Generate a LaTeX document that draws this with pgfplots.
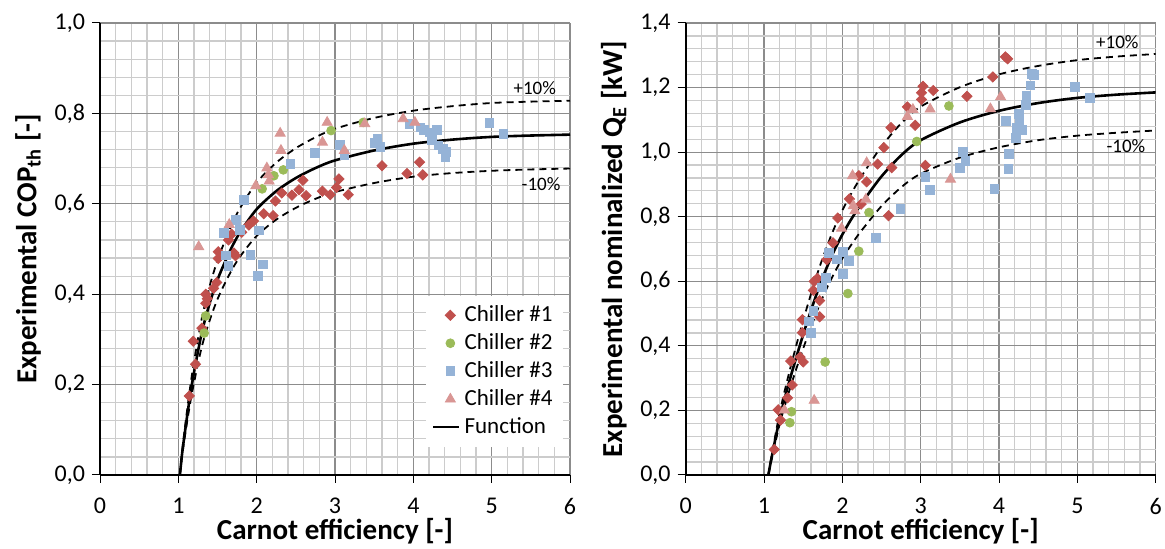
\documentclass[border=0pt]{standalone}
\usepackage{fontspec}
\setmainfont{Carlito}
\usepackage{pgfplots}
\pgfplotsset{compat=1.18}

\definecolor{ch1}{HTML}{C0504D}
\definecolor{ch2}{HTML}{9BBB59}
\definecolor{ch3}{HTML}{95B3D7}
\definecolor{ch4}{HTML}{D99694}

\pgfplotsset{
  chart/.style={
    scale only axis, width=235pt, height=226pt,
    xmin=0, xmax=6, ymin=0,
    xtick={0,1,2,3,4,5,6},
    minor x tick num=4, minor y tick num=4,
    grid=both,
    major grid style={black!45, line width=0.6pt},
    minor grid style={black!20, line width=0.6pt},
    axis lines*=left,
    axis line style={black, line width=0.8pt},
    tick align=outside,
    major tick length=4pt, minor tick length=0pt,
    tick style={black, line width=0.5pt},
    ticklabel style={font=\fontsize{12}{14}\selectfont},
    /pgf/number format/assume math mode=true,
    yticklabel style={/pgf/number format/.cd, fixed, fixed zerofill, precision=1, use comma},
    xticklabel style={yshift=-4pt},
    label style={font=\fontsize{14.5}{16}\selectfont\bfseries},
    xlabel style={yshift=5pt},
    xlabel={Carnot efficiency [-]},
  },
  s1/.style={only marks, mark=square*, mark size=1.8pt, color=ch1, mark options={draw=none, fill=ch1, rotate=45}},
  s2/.style={only marks, mark=*, mark size=2.2pt, color=ch2, mark options={draw=none, fill=ch2}},
  s3/.style={only marks, mark=square*, mark size=2.2pt, color=ch3, mark options={draw=none, fill=ch3}},
  s4/.style={only marks, mark=triangle*, mark size=2.9pt, color=ch4, mark options={draw=none, fill=ch4}},
  fn/.style={black, line width=1.3pt, no marks, smooth,
    legend image code/.code={\draw[##1] (0pt,0pt) -- (13pt,0pt);}},
  band/.style={black, line width=0.9pt, no marks, smooth, dash pattern=on 3.5pt off 2.5pt, forget plot},
}

\begin{document}
\begin{tikzpicture}
\useasboundingbox (-50pt,-37pt) rectangle (532.5pt,237.5pt);

% ---- left: COP ----
\begin{axis}[chart, at={(0pt,0pt)},
  ymax=1.0, ytick={0,0.2,0.4,0.6,0.8,1.0},
  ylabel={Experimental COP\textsubscript{th} [-]},
  legend style={at={(rel axis cs:0.985,0.062)}, anchor=south east, draw=none, fill=white,
    font=\fontsize{11.5}{14}\selectfont, row sep=0.5pt, inner sep=3pt},
  legend cell align=left,
]
\addplot[s1] coordinates {
(1.14,0.175) (1.19,0.296) (1.22,0.245) (1.30,0.325) (1.35,0.38) (1.35,0.40) (1.37,0.39)
(1.45,0.413) (1.49,0.426) (1.51,0.479) (1.51,0.494) (1.64,0.52) (1.68,0.533) (1.71,0.491)
(1.73,0.485) (1.81,0.537) (1.90,0.553) (1.96,0.562) (2.09,0.578) (2.21,0.574) (2.24,0.606)
(2.32,0.624) (2.45,0.619) (2.54,0.631) (2.59,0.652) (2.63,0.618) (2.84,0.628) (2.94,0.620)
(3.02,0.636) (3.05,0.655) (3.17,0.620) (3.60,0.684) (3.92,0.667) (4.08,0.692) (4.12,0.664)
};
\addlegendentry{Chiller \#1}
\addplot[s2] coordinates {
(1.33,0.314) (1.35,0.352) (2.07,0.633) (2.22,0.662) (2.34,0.675) (2.95,0.762) (3.36,0.780)
};
\addlegendentry{Chiller \#2}
\addplot[s3] coordinates {
(1.58,0.535) (1.61,0.486) (1.64,0.462) (1.73,0.564) (1.79,0.543) (1.84,0.609) (1.92,0.487)
(2.02,0.44) (2.03,0.541) (2.08,0.466) (2.43,0.689) (2.74,0.712) (3.06,0.730) (3.12,0.708)
(3.51,0.735) (3.54,0.743) (3.58,0.725) (3.95,0.776) (4.09,0.769) (4.13,0.764) (4.21,0.758)
(4.30,0.764) (4.24,0.742) (4.32,0.729) (4.38,0.721) (4.42,0.715) (4.41,0.703) (4.97,0.779)
(5.15,0.755)
};
\addlegendentry{Chiller \#3}
\addplot[s4] coordinates {
(1.26,0.505) (1.65,0.554) (1.99,0.640) (2.13,0.679) (2.15,0.664) (2.16,0.650) (2.30,0.756)
(2.31,0.718) (2.84,0.736) (2.90,0.780) (3.12,0.718) (3.38,0.777) (3.87,0.788) (4.02,0.780)
};
\addlegendentry{Chiller \#4}
\addplot[fn] coordinates {
(1.02,0) (1.05,0.05) (1.1,0.115) (1.15,0.175) (1.2,0.227) (1.3,0.315) (1.4,0.38) (1.5,0.432)
(1.6,0.473) (1.7,0.51) (1.8,0.54) (2.0,0.588) (2.25,0.628) (2.5,0.657) (2.75,0.679) (3.0,0.696)
(3.5,0.718) (4.0,0.733) (4.5,0.742) (5.0,0.748) (5.5,0.751) (6.0,0.753)
};
\addlegendentry{Function}
\addplot[band] coordinates {
(1.02,0) (1.05,0.055) (1.1,0.127) (1.15,0.193) (1.2,0.250) (1.3,0.347) (1.4,0.418) (1.5,0.475)
(1.6,0.520) (1.7,0.561) (1.8,0.594) (2.0,0.647) (2.25,0.691) (2.5,0.723) (2.75,0.747) (3.0,0.766)
(3.5,0.790) (4.0,0.806) (4.5,0.816) (5.0,0.823) (5.5,0.826) (6.0,0.828)
};
\addplot[band] coordinates {
(1.02,0) (1.05,0.045) (1.1,0.104) (1.15,0.158) (1.2,0.204) (1.3,0.284) (1.4,0.342) (1.5,0.389)
(1.6,0.426) (1.7,0.459) (1.8,0.486) (2.0,0.529) (2.25,0.565) (2.5,0.591) (2.75,0.611) (3.0,0.626)
(3.5,0.646) (4.0,0.660) (4.5,0.668) (5.0,0.673) (5.5,0.676) (6.0,0.678)
};
\node[font=\fontsize{9.5}{11}\selectfont] at (axis cs:5.55,0.856) {+10\%};
\node[font=\fontsize{9.5}{11}\selectfont] at (axis cs:5.63,0.644) {-10\%};
\end{axis}

% ---- right: nominalized Q_E ----
\begin{axis}[chart, at={(292.85pt,0pt)},
  ymax=1.4, ytick={0,0.2,0.4,0.6,0.8,1.0,1.2,1.4},
  ylabel={Experimental nominalized Q\textsubscript{E} [kW]},
]
\addplot[s1] coordinates {
(1.13,0.079) (1.18,0.202) (1.21,0.17) (1.30,0.239) (1.36,0.279) (1.34,0.353) (1.46,0.365)
(1.50,0.350) (1.49,0.441) (1.49,0.481) (1.63,0.572) (1.64,0.600) (1.68,0.609) (1.71,0.490)
(1.71,0.540) (1.80,0.667) (1.88,0.719) (1.94,0.796) (2.09,0.855) (2.21,0.927) (2.24,0.839)
(2.31,0.908) (2.45,0.963) (2.53,1.014) (2.59,0.803) (2.62,1.076) (2.63,0.952) (2.83,1.140)
(2.93,1.083) (3.01,1.163) (3.01,1.184) (3.03,1.204) (3.06,0.959) (3.16,1.191) (3.59,1.173)
(3.92,1.233) (4.08,1.295) (4.11,1.289)
};
\addplot[s2] coordinates {
(1.33,0.162) (1.35,0.196) (1.78,0.350) (2.07,0.562) (2.21,0.693) (2.34,0.813) (2.95,1.033)
(3.36,1.143)
};
\addplot[s3] coordinates {
(1.57,0.476) (1.60,0.441) (1.63,0.509) (1.74,0.581) (1.79,0.610) (1.83,0.689) (1.93,0.668)
(2.01,0.692) (2.01,0.622) (2.08,0.662) (2.43,0.735) (2.74,0.823) (3.06,0.924) (3.12,0.882)
(3.50,0.951) (3.54,1.0) (3.57,0.972) (3.94,0.886) (4.09,1.096) (4.12,0.949) (4.13,0.995)
(4.22,1.045) (4.23,1.076) (4.25,1.119) (4.26,1.096) (4.29,1.069) (4.34,1.147) (4.35,1.173)
(4.40,1.207) (4.42,1.243) (4.45,1.240) (4.97,1.202) (5.16,1.167)
};
\addplot[s4] coordinates {
(1.26,0.201) (1.64,0.231) (1.99,0.764) (2.14,0.834) (2.16,0.818) (2.30,0.854) (2.13,0.927)
(2.31,0.967) (2.83,1.110) (2.90,1.132) (3.12,1.133) (3.38,0.916) (3.89,1.134) (4.02,1.171)
};
\addplot[fn] coordinates {
(1.055,0) (1.1,0.058) (1.2,0.175) (1.3,0.27) (1.4,0.355) (1.5,0.435) (1.6,0.51) (1.7,0.58)
(1.8,0.642) (1.9,0.697) (2.0,0.745) (2.1,0.787) (2.2,0.825) (2.3,0.86) (2.5,0.925) (2.75,0.99)
(3.0,1.037) (3.5,1.092) (4.0,1.128) (4.5,1.152) (5.0,1.168) (5.5,1.178) (6.0,1.185)
};
\addplot[band] coordinates {
(1.055,0) (1.1,0.064) (1.2,0.193) (1.3,0.297) (1.4,0.391) (1.5,0.479) (1.6,0.561) (1.7,0.638)
(1.8,0.706) (1.9,0.767) (2.0,0.820) (2.1,0.866) (2.2,0.908) (2.3,0.946) (2.5,1.018) (2.75,1.089)
(3.0,1.141) (3.5,1.201) (4.0,1.241) (4.5,1.267) (5.0,1.285) (5.5,1.296) (6.0,1.304)
};
\addplot[band] coordinates {
(1.055,0) (1.1,0.052) (1.2,0.158) (1.3,0.243) (1.4,0.320) (1.5,0.392) (1.6,0.459) (1.7,0.522)
(1.8,0.578) (1.9,0.627) (2.0,0.671) (2.1,0.708) (2.2,0.743) (2.3,0.774) (2.5,0.833) (2.75,0.891)
(3.0,0.933) (3.5,0.983) (4.0,1.015) (4.5,1.037) (5.0,1.051) (5.5,1.060) (6.0,1.067)
};
\node[font=\fontsize{9.5}{11}\selectfont] at (axis cs:5.51,1.340) {+10\%};
\node[font=\fontsize{9.5}{11}\selectfont] at (axis cs:5.62,1.019) {-10\%};
\end{axis}
\end{tikzpicture}
\end{document}
